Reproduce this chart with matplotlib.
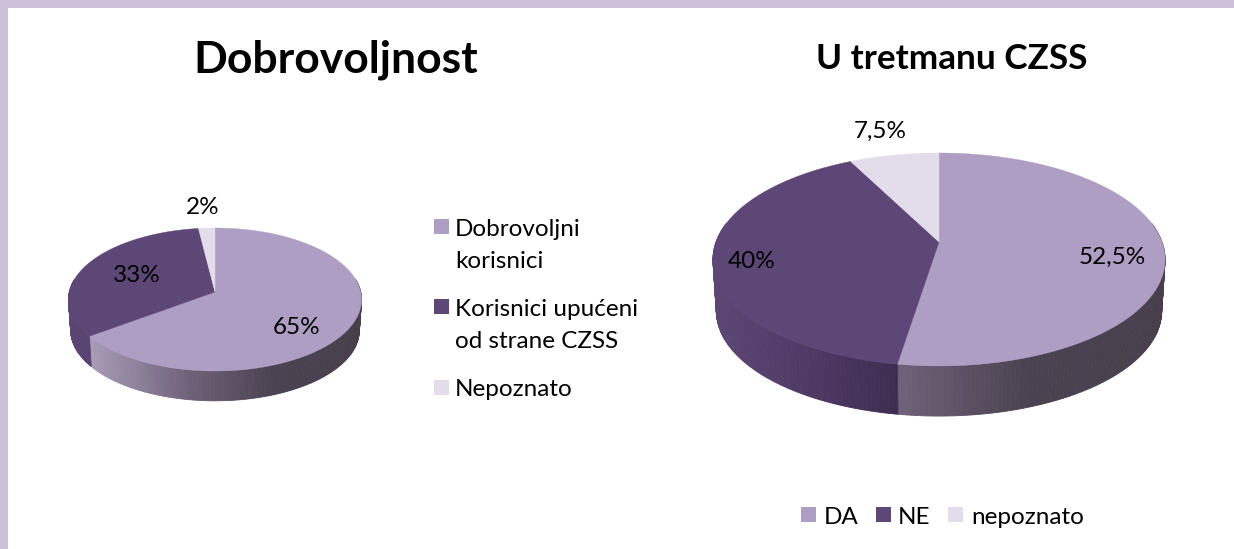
import numpy as np
import matplotlib
matplotlib.use("Agg")
import matplotlib.pyplot as plt
from matplotlib.colors import LinearSegmentedColormap
from matplotlib.patches import Rectangle

plt.rcParams['font.family'] = ['Lato', 'DejaVu Sans']

left_title = "Dobrovoljnost"
left_categories = ["Dobrovoljni\nkorisnici", "Korisnici upućeni\nod strane CZSS", "Nepoznato"]
left_values = [65, 33, 2]
left_labels = ["65%", "33%", "2%"]

right_title = "U tretmanu CZSS"
right_categories = ["DA", "NE", "nepoznato"]
right_values = [52.5, 40, 7.5]
right_labels = ["52,5%", "40%", "7,5%"]

TOP = ["#af9ec4", "#5d4777", "#e3dcea"]
BORDER = "#ccc0d9"
WALLS = [
    LinearSegmentedColormap.from_list("w0", [(0, "#b3a6c2"), (.07, "#a89cb8"), (.41, "#6f6179"), (.7, "#4a4250"), (1, "#483f4d")]),
    LinearSegmentedColormap.from_list("w1", [(0, "#5c4674"), (.2, "#4f3a66"), (.41, "#3e2d50"), (1, "#3e2d50")]),
    LinearSegmentedColormap.from_list("w2", ["#a09aa6", "#a09aa6"]),
]

W, H = 1234, 549
fig = plt.figure(figsize=(W / 100, H / 100), dpi=100, facecolor="white")
ax = fig.add_axes([0, 0, 1, 1])
ax.set_xlim(0, W)
ax.set_ylim(H, 0)
ax.axis("off")


def project(frac, cx, cy, A, B, k, shrink=1.0):
    """Clockwise fraction of the circle from 12 o'clock -> perspective pixel point."""
    t = 2 * np.pi * np.asarray(frac)
    X, Y = np.sin(t), -np.cos(t)
    s = 1 / (1 - k * Y)
    return cx + shrink * A * X * s, cy + shrink * B * Y * s


def pie3d(values, cx, cy, A, B, k, depth, shrink):
    vals = np.asarray(values, float)
    edges = np.concatenate([[0], np.cumsum(vals) / vals.sum()])
    xmin, xmax = cx - A / np.sqrt(1 - k * k), cx + A / np.sqrt(1 - k * k)
    for i in range(len(vals)):
        a, b = max(edges[i], .22), min(edges[i + 1], .78)
        if b <= a:
            continue
        f = np.linspace(a, b, int((b - a) * 360) + 2)
        for f0, f1 in zip(f[:-1], f[1:]):
            xt, yt = project([f0, f1], cx, cy, A, B, k)
            xb, yb = project([f0, f1], cx, cy + depth, A, B, k, shrink)
            c = WALLS[i](((xt.mean()) - xmin) / (xmax - xmin))
            ax.fill([xt[0], xt[1], xb[1], xb[0]], [yt[0], yt[1], yb[1], yb[0]],
                    facecolor=c, edgecolor=c, lw=.6, zorder=2)
    for i in range(len(vals)):
        f = np.linspace(edges[i], edges[i + 1], int((edges[i + 1] - edges[i]) * 720) + 2)
        x, y = project(f, cx, cy, A, B, k)
        ax.fill(np.r_[cx, x], np.r_[cy, y], facecolor=TOP[i], edgecolor=TOP[i], lw=.3, zorder=3)


pie3d(left_values, 215, 292, 145.7, 70.7, .105, 31, .985)
pie3d(right_values, 939, 242, 223, 103.6, .164, 52, .985)

ax.add_patch(Rectangle((0, 0), W, 8, facecolor=BORDER, edgecolor="none", zorder=5))
ax.add_patch(Rectangle((0, 0), 8, H, facecolor=BORDER, edgecolor="none", zorder=5))

TS = 17.5
ax.text(336, 60, left_title, fontsize=32, fontweight="bold", ha="center", va="center", zorder=6)
ax.text(952, 59, right_title, fontsize=25.3, fontweight="bold", ha="center", va="center", zorder=6)

for lab, (x, y) in zip(left_labels, [(297, 325), (137, 274), (203, 206)]):
    ax.text(x, y, lab, fontsize=TS, ha="center", va="center_baseline", color="black", zorder=6)
for lab, (x, y) in zip(right_labels, [(1112, 255), (752, 260), (880, 129)]):
    ax.text(x, y, lab, fontsize=TS, ha="center", va="center_baseline", color="black", zorder=6)

for i, (cat, y) in enumerate(zip(left_categories, [219, 299, 380])):
    ax.add_patch(Rectangle((434, y), 15, 15, facecolor=TOP[i], edgecolor="none"))
    for j, line in enumerate(cat.split("\n")):
        ax.text(455, y + 8 + j * 32, line, fontsize=TS, ha="left", va="center_baseline", zorder=6)

for i, (cat, sx, tx) in enumerate(zip(right_categories, [801, 876, 948], [824, 898, 971])):
    ax.add_patch(Rectangle((sx, 507), 15, 15, facecolor=TOP[i], edgecolor="none"))
    ax.text(tx, 515, cat, fontsize=TS, ha="left", va="center_baseline", zorder=6)

fig.savefig("out.png", dpi=100, facecolor="white")
